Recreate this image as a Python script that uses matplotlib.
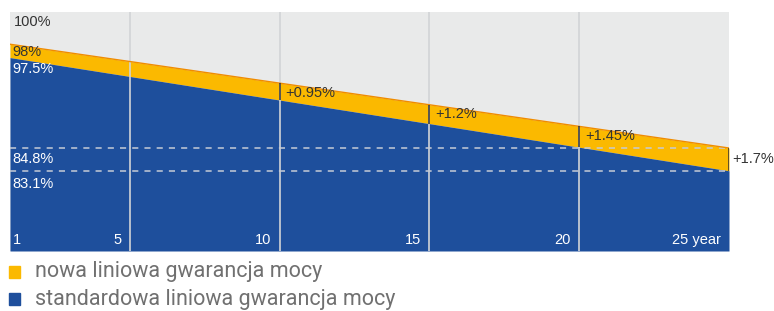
import matplotlib.pyplot as plt
import numpy as np

years = [1, 25]
new_guarantee = [98.0, 84.8]
std_guarantee = [96.3, 81.9]

value_labels = ["100%", "98%", "97.5%", "84.8%", "83.1%"]
grid_years = [5, 10, 15, 20]
marker_years = [10, 15, 20, 25]
diff_labels = ["+0.95%", "+1.2%", "+1.45%", "+1.7%"]
tick_years = [1, 5, 10, 15, 20, 25]
tick_labels = ["1", "5", "10", "15", "20", "25 year"]
legend_labels = ["nowa liniowa gwarancja mocy", "standardowa liniowa gwarancja mocy"]

YELLOW = "#fbb900"
ORANGE = "#f08c00"
BLUE = "#1e4f9c"
BG = "#e9eaea"
DARK = "#333333"

plt.rcParams['font.family'] = ['Liberation Sans', 'DejaVu Sans']


def main():
    fig = plt.figure(figsize=(7.74, 3.11), dpi=100)
    ax = fig.add_axes([10 / 774, 1 - 251 / 311, 719 / 774, 239 / 311])
    ax.set_facecolor(BG)

    x = np.array(years, dtype=float)
    new = np.array(new_guarantee)
    std = np.array(std_guarantee)

    ymin, ymax = 71.7, 102.1
    ax.set_xlim(1, 25)
    ax.set_ylim(ymin, ymax)

    ax.fill_between(x, std, new, color=YELLOW, lw=0, zorder=1)
    ax.fill_between(x, ymin, std, color=BLUE, lw=0, zorder=1)
    ax.plot(x, new, color=ORANGE, lw=1, zorder=3)

    def interp(arr, yr):
        return np.interp(yr, x, arr)

    # grid lines
    for yr in grid_years:
        ax.axvline(yr, color="#d2d4d6", lw=1.2, zorder=2)

    # dashed reference levels at year 25
    for v in (new[-1], std[-1]):
        ax.axhline(v, color="#c6cbd6", lw=1.1, ls=(0, (4, 4)), zorder=2)

    # dark markers over yellow band + labels
    fs = 10.5
    for yr, lab in zip(marker_years, diff_labels):
        lo, hi = interp(std, yr), interp(new, yr)
        ax.vlines(yr, lo, hi, color=DARK, lw=1.1, zorder=4)
        if yr == 25:
            ax.text(yr + 0.12, (lo + hi) / 2, lab, ha="left", va="center",
                    fontsize=fs, color=DARK, clip_on=False)
        else:
            ax.text(yr + 0.2, hi - 0.3, lab, ha="left", va="top",
                    fontsize=fs, color=DARK, zorder=5)

    # value labels on the left
    ax.text(1.12, 101.7, value_labels[0], ha="left", va="top", fontsize=fs, color=DARK)
    ax.text(1.08, new[0] - 1.0, value_labels[1], ha="left", va="center", fontsize=fs, color=DARK, zorder=5)
    ax.text(1.08, std[0] - 1.4, value_labels[2], ha="left", va="center", fontsize=fs, color="white", zorder=5)
    ax.text(1.08, new[-1] - 1.35, value_labels[3], ha="left", va="center", fontsize=fs, color="white", zorder=5)
    ax.text(1.08, std[-1] - 1.65, value_labels[4], ha="left", va="center", fontsize=fs, color="white", zorder=5)

    # year labels inside the blue area
    for yr, lab in zip(tick_years, tick_labels):
        if yr == 1:
            ax.text(yr + 0.1, ymin + 0.5, lab, ha="left", va="bottom", fontsize=fs, color="white", zorder=5)
        else:
            ax.text(yr - 0.28, ymin + 0.5, lab, ha="right", va="bottom", fontsize=fs, color="white", zorder=5)

    ax.set_xticks([])
    ax.set_yticks([])
    for s in ax.spines.values():
        s.set_visible(False)

    # legend
    for i, (lab, col) in enumerate(zip(legend_labels, [YELLOW, BLUE])):
        yc = 1 - (272 + 27 * i) / 311
        fig.patches.append(plt.Rectangle((9 / 774, yc - 6 / 311), 11 / 774, 12 / 311,
                                         transform=fig.transFigure, color=col))
        fig.text(35 / 774, yc, lab, ha="left", va="center", fontsize=15.5,
                 color="#707070", family=["Roboto", "DejaVu Sans"])

    fig.savefig("out.png", dpi=100)


if __name__ == "__main__":
    main()
